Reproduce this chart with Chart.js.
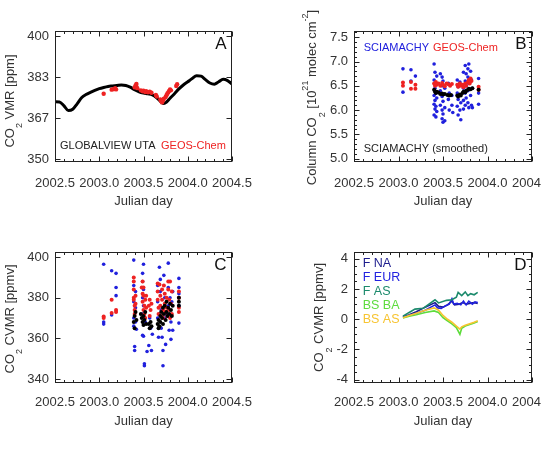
<!DOCTYPE html>
<html><head><meta charset="utf-8">
<script src="https://cdn.jsdelivr.net/npm/chart.js@4.4.0/dist/chart.umd.min.js"></script>
<style>
html,body{margin:0;padding:0;background:#fff;overflow:hidden;width:542px;height:450px;position:relative;}
.p{position:absolute;height:225px;}
canvas{display:block;}
</style></head><body>
<div class="p" style="left:0;top:0;width:271px"><canvas id="cA" width="271" height="225"></canvas></div>
<div class="p" style="left:271px;top:0;width:300px"><canvas id="cB" width="300" height="225"></canvas></div>
<div class="p" style="left:0;top:225px;width:271px"><canvas id="cC" width="271" height="225"></canvas></div>
<div class="p" style="left:271px;top:225px;width:300px"><canvas id="cD" width="300" height="225"></canvas></div>
<script>
// ---------- tick labels ----------
const xTicks = [2002.5, 2003.0, 2003.5, 2004.0, 2004.5];
const yTicksA = [350, 366.67, 383.33, 400];
const yTicksB = [5.0, 5.5, 6.0, 6.5, 7.0, 7.5];
const yTicksC = [340, 360, 380, 400];
const yTicksD = [-4, -2, 0, 2, 4];

// ---------- Panel A ----------
const gvYears = [2002.50,2002.55,2002.60,2002.65,2002.70,2002.75,2002.80,2002.85,2002.90,2002.95,2003.00,2003.05,2003.10,2003.15,2003.20,2003.25,2003.30,2003.35,2003.40,2003.45,2003.50,2003.55,2003.60,2003.65,2003.70,2003.73,2003.76,2003.80,2003.85,2003.90,2003.95,2004.00,2004.05,2004.10,2004.15,2004.20,2004.25,2004.30,2004.35,2004.40,2004.45,2004.50];
const gvCO2 = [373.4,373.3,371.8,369.8,370.3,372.5,375.0,376.3,377.2,378.0,378.7,379.2,379.6,379.8,380.0,380.2,380.0,379.3,378.3,377.4,376.9,376.6,376.2,375.0,373.2,372.6,373.2,374.8,376.6,378.6,380.2,381.5,382.8,384.0,383.8,382.4,381.0,380.5,381.5,382.5,382.0,380.6];
const geosA = [[2003.05,376.6],[2003.14,378.3],[2003.16,378.5],[2003.18,378.9],[2003.19,378.4],
 [2003.40,379.2],[2003.41,380.0],[2003.42,380.6],[2003.42,379.4],[2003.43,378.9],
 [2003.47,378.0],[2003.49,377.6],[2003.50,377.9],[2003.52,377.3],[2003.53,377.7],[2003.55,377.2],[2003.57,377.5],[2003.59,377.0],
 [2003.64,376.1],[2003.65,375.5],
 [2003.69,374.3],[2003.70,373.6],[2003.71,373.1],[2003.72,373.9],[2003.73,374.6],[2003.75,375.3],[2003.76,376.0],[2003.77,376.7],[2003.78,377.2],[2003.79,377.8],[2003.80,378.4],[2003.81,378.0],
 [2003.87,379.8],[2003.88,380.5]];

// ---------- Panel B ----------
const sciaB = [[2003.05,6.85],[2003.05,6.37],[2003.14,6.83],[2003.14,6.60],[2003.19,6.70],
 [2003.40,6.95],[2003.40,6.62],[2003.40,6.30],[2003.40,6.12],[2003.40,5.90],
 [2003.41,6.78],[2003.41,6.45],[2003.41,6.20],[2003.41,6.02],
 [2003.42,6.55],[2003.42,6.35],[2003.42,6.08],[2003.42,5.86],
 [2003.43,6.70],[2003.43,6.25],[2003.43,5.97],
 [2003.47,6.75],[2003.47,6.40],[2003.47,6.10],
 [2003.49,6.68],[2003.49,6.50],[2003.49,6.28],[2003.49,6.00],[2003.49,5.82],
 [2003.50,6.60],[2003.50,6.18],[2003.50,5.92],[2003.50,5.75],
 [2003.52,6.45],[2003.52,6.05],[2003.52,5.78],
 [2003.56,6.55],[2003.56,6.22],[2003.57,6.35],[2003.57,6.00],
 [2003.60,6.30],[2003.60,6.10],[2003.61,5.95],
 [2003.66,6.62],[2003.66,6.35],[2003.66,6.08],[2003.67,6.48],[2003.67,6.22],[2003.67,5.90],
 [2003.69,6.58],[2003.69,6.30],[2003.69,6.00],[2003.70,5.80],[2003.70,6.15],
 [2003.73,6.78],[2003.73,6.45],[2003.73,6.20],[2003.73,6.02],
 [2003.75,6.92],[2003.75,6.60],[2003.75,6.35],[2003.75,6.10],
 [2003.76,6.75],[2003.76,6.50],[2003.76,6.25],
 [2003.78,6.85],[2003.78,6.68],[2003.78,6.40],[2003.78,6.15],
 [2003.79,6.95],[2003.79,6.55],[2003.79,6.05],
 [2003.81,6.80],[2003.81,6.30],[2003.82,6.62],[2003.82,6.10],[2003.83,6.45],[2003.83,6.05],
 [2003.90,6.65],[2003.90,6.35],[2003.90,6.12]];
const smoothB = [[2003.40,6.42],[2003.41,6.38],[2003.42,6.35],[2003.43,6.38],[2003.45,6.36],[2003.47,6.33],[2003.49,6.34],[2003.50,6.32],[2003.52,6.33],[2003.55,6.31],[2003.57,6.30],[2003.59,6.31],
 [2003.66,6.30],[2003.67,6.28],[2003.69,6.32],[2003.70,6.30],[2003.72,6.35],[2003.73,6.38],[2003.75,6.37],[2003.76,6.40],[2003.78,6.42],[2003.79,6.44],[2003.81,6.43],[2003.83,6.45],[2003.90,6.42]];
const geosB = [[2003.05,6.57],[2003.05,6.50],[2003.14,6.58],[2003.14,6.44],[2003.19,6.52],[2003.19,6.44],
 [2003.40,6.55],[2003.41,6.50],[2003.42,6.58],[2003.43,6.52],[2003.45,6.55],[2003.47,6.50],[2003.49,6.56],[2003.50,6.52],[2003.52,6.49],[2003.54,6.55],[2003.56,6.53],[2003.58,6.50],[2003.60,6.54],
 [2003.66,6.52],[2003.67,6.48],[2003.69,6.55],[2003.70,6.50],[2003.72,6.52],[2003.73,6.47],[2003.75,6.55],[2003.76,6.50],[2003.78,6.58],[2003.79,6.62],[2003.80,6.55],[2003.81,6.65],[2003.82,6.60],[2003.90,6.48],[2003.90,6.42]];

// ---------- Panel C ----------
const sciaC = [[2003.05,396.5],[2003.05,368.0],[2003.05,367.0],[2003.14,393.3],[2003.14,371.5],[2003.19,392.0],[2003.19,385.0],[2003.19,381.0],
 [2003.39,398.5],[2003.39,386],[2003.39,378],[2003.39,370],[2003.39,366],[2003.40,356],[2003.40,354],[2003.41,383],[2003.41,375],[2003.41,368],[2003.42,364.5],
 [2003.49,392],[2003.49,388],[2003.49,380],[2003.49,372],[2003.49,361.5],[2003.50,396.5],[2003.50,384],[2003.50,376],[2003.50,361],[2003.51,347.5],[2003.51,346.5],[2003.52,368],
 [2003.54,353.5],[2003.56,356.5],[2003.57,370],[2003.58,365],[2003.59,354],[2003.60,362],
 [2003.66,386],[2003.66,378],[2003.66,370],[2003.67,360.5],[2003.68,395],[2003.69,389],[2003.69,383],[2003.70,374],[2003.70,365],[2003.71,360.5],[2003.72,346.5],[2003.72,354],[2003.73,391],[2003.74,380],[2003.74,370],[2003.75,357],[2003.76,372],[2003.78,397],[2003.78,385],[2003.78,376],[2003.79,364],[2003.80,380],[2003.81,368],[2003.81,359.5],[2003.82,378],[2003.83,383],[2003.83,364],
 [2003.90,389.5],[2003.90,385],[2003.90,382],[2003.90,376],[2003.90,367.5]];
const geosC = [[2003.05,370.8],[2003.05,370.0],[2003.14,379.0],[2003.14,372.5],[2003.19,374.0],[2003.19,373.0],
 [2003.39,390],[2003.39,388],[2003.39,384],[2003.39,380],[2003.39,379],[2003.40,376],[2003.40,374],[2003.40,372],[2003.41,381],[2003.41,377],
 [2003.48,385],[2003.49,388],[2003.49,382],[2003.49,378],[2003.50,385],[2003.50,381],[2003.50,374],[2003.51,376],[2003.51,372],[2003.52,379],[2003.52,370],[2003.53,381],[2003.53,375],
 [2003.56,376],[2003.57,379],[2003.57,371],[2003.58,374],[2003.59,377],
 [2003.66,387],[2003.66,383],[2003.66,379],[2003.67,375],[2003.67,372],[2003.68,386.5],[2003.69,381],[2003.69,376],[2003.70,371],[2003.71,384],[2003.71,379],[2003.72,374],[2003.72,370],[2003.73,386],[2003.74,382],[2003.74,377],[2003.75,373],[2003.76,380],[2003.76,375],[2003.77,371],[2003.78,388],[2003.78,384],[2003.79,379],[2003.79,374],[2003.80,388],[2003.80,370],[2003.81,377],[2003.82,383],[2003.82,372],
 [2003.90,383],[2003.90,380],[2003.90,375],[2003.90,373]];
const smoothC = [[2003.39,368],[2003.40,371],[2003.40,365],[2003.41,373],[2003.42,369],[2003.47,372],[2003.48,370],[2003.49,368],[2003.50,371],[2003.50,366.5],[2003.51,369],[2003.52,373],[2003.53,367],[2003.56,367],[2003.57,365],[2003.58,368],[2003.59,366],
 [2003.66,367],[2003.67,365],[2003.67,369],[2003.68,366],[2003.69,371],[2003.69,368],[2003.70,373],[2003.71,370],[2003.72,375],[2003.72,367],[2003.73,372],[2003.74,376],[2003.75,369],[2003.76,378],[2003.76,373],[2003.77,371],[2003.78,375],[2003.79,372],[2003.80,377],[2003.81,374],[2003.82,371],[2003.83,376],[2003.90,376],[2003.90,378],[2003.90,380]];

// ---------- Panel D ----------
const fNA = [[2003.05,0.15],[2003.12,0.3],[2003.2,0.5],[2003.3,0.8],[2003.41,1.1],[2003.45,0.85],[2003.50,0.8],[2003.55,0.95],[2003.60,1.2],[2003.63,0.95],[2003.68,1.0],[2003.72,1.1],[2003.76,1.0],[2003.80,1.05],[2003.85,1.1],[2003.89,1.05]];
const fEUR = [[2003.05,0.15],[2003.12,0.25],[2003.2,0.4],[2003.3,0.6],[2003.41,0.95],[2003.44,0.75],[2003.48,0.72],[2003.53,0.9],[2003.57,1.0],[2003.60,1.35],[2003.62,1.0],[2003.66,1.05],[2003.70,0.95],[2003.73,1.2],[2003.76,0.95],[2003.79,1.2],[2003.83,1.0],[2003.86,1.15],[2003.89,1.1]];
const fAS = [[2003.05,0.2],[2003.12,0.45],[2003.185,0.67],[2003.28,0.73],[2003.41,1.29],[2003.45,1.08],[2003.54,1.25],[2003.60,1.29],[2003.65,1.46],[2003.67,1.77],[2003.71,1.56],[2003.75,1.81],[2003.78,1.56],[2003.81,1.69],[2003.85,1.62],[2003.89,1.78]];
const bsBA = [[2003.05,0.08],[2003.12,0.2],[2003.2,0.3],[2003.3,0.45],[2003.4,0.55],[2003.45,0.45],[2003.5,0.1],[2003.55,-0.1],[2003.6,-0.3],[2003.65,-0.55],[2003.69,-1.0],[2003.71,-0.6],[2003.75,-0.45],[2003.8,-0.35],[2003.85,-0.25],[2003.89,-0.15]];
const bsAS = [[2003.05,0.1],[2003.12,0.25],[2003.2,0.4],[2003.3,0.6],[2003.4,0.75],[2003.45,0.6],[2003.5,0.25],[2003.55,0.0],[2003.6,-0.2],[2003.65,-0.45],[2003.69,-0.65],[2003.71,-0.5],[2003.75,-0.4],[2003.8,-0.3],[2003.85,-0.2],[2003.89,-0.1]];

// ---------- styling ----------
const FONT = '"Liberation Sans", Arial, Helvetica, sans-serif';
Chart.defaults.font.family = FONT;
Chart.defaults.font.size = 13;
Chart.defaults.color = '#333';
const RED = '#ee2222', BLUE = '#2020dd', BLACK = '#000';
const pts = a => a.map(([x, y]) => ({x, y}));

function drawVertical(ctx, cx, cy, parts) {
  ctx.save();
  ctx.translate(cx, cy);
  ctx.rotate(-Math.PI / 2);
  ctx.textBaseline = 'middle';
  ctx.fillStyle = '#333';
  const fontOf = k => (k === 'n' ? '13px ' : '9px ') + FONT;
  let total = 0;
  parts.forEach(([t, k]) => { ctx.font = fontOf(k); total += ctx.measureText(t).width; });
  let x = -total / 2;
  parts.forEach(([t, k]) => {
    ctx.font = fontOf(k);
    const dy = k === 'sub' ? 10 : (k === 'sup' ? -7 : 0);
    ctx.textAlign = 'left';
    ctx.fillText(t, x, dy);
    x += ctx.measureText(t).width;
  });
  ctx.restore();
}

const deco = {
  id: 'deco',
  afterDraw(chart, args, o) {
    const {ctx, chartArea: a, scales: {x, y}} = chart;
    ctx.save();
    ctx.strokeStyle = '#222';
    ctx.lineWidth = 1;
    const L = Math.round(a.left) + 0.5, R = Math.round(a.right) - 0.5;
    const T = Math.round(a.top) + 0.5, B = Math.round(a.bottom) - 0.5;
    ctx.strokeRect(L, T, R - L, B - T);
    ctx.beginPath();
    const xt = (v, len) => { const p = Math.round(x.getPixelForValue(v)) + 0.5; ctx.moveTo(p, B); ctx.lineTo(p, B - len); ctx.moveTo(p, T); ctx.lineTo(p, T + len); };
    const yt = (v, len) => { const p = Math.round(y.getPixelForValue(v)) + 0.5; ctx.moveTo(L, p); ctx.lineTo(L + len, p); ctx.moveTo(R, p); ctx.lineTo(R - len, p); };
    for (let i = 0; i <= 20; i++) { const v = 2002.5 + i * 0.1; xt(v, i % 5 === 0 ? 5 : 2.5); }
    o.yTicks.forEach(v => yt(v, 5));
    if (o.yMinor) {
      for (let v = Math.ceil(y.min / o.yMinor) * o.yMinor; v <= y.max; v += o.yMinor) yt(v, 2.5);
    }
    ctx.stroke();
    // panel letter
    ctx.fillStyle = '#111';
    ctx.font = '17px ' + FONT;
    ctx.textAlign = 'right';
    ctx.textBaseline = 'alphabetic';
    ctx.fillText(o.letter, a.right - 5.5, a.top + 17.5);
    // legend texts
    ctx.textAlign = 'left';
    ctx.textBaseline = 'middle';
    (o.texts || []).forEach(t => {
      ctx.font = (t.size || 11) + 'px ' + FONT;
      ctx.fillStyle = t.color;
      ctx.fillText(t.t, t.x, t.y);
    });
    // x title
    ctx.fillStyle = '#333';
    ctx.font = '13px ' + FONT;
    ctx.textAlign = 'center';
    ctx.fillText('Julian day', o.xtitle[0], o.xtitle[1]);
    ctx.restore();
    drawVertical(ctx, o.ytitle[0], o.ytitle[1], o.ytitle[2]);
  }
};

function scales(yMin, yMax, yTicks, yFmt, yW, xH, xPad) {
  return {
    x: {type: 'linear', min: 2002.5, max: 2004.5,
      afterBuildTicks: s => { s.ticks = xTicks.map(v => ({value: v})); },
      afterFit: s => { s.height = xH; },
      ticks: {callback: v => Number(v).toFixed(1), padding: xPad, maxRotation: 0, autoSkip: false, color: '#333'},
      grid: {display: false, drawTicks: false}, border: {display: false}},
    y: {type: 'linear', min: yMin, max: yMax,
      afterBuildTicks: s => { s.ticks = yTicks.map(v => ({value: v})); },
      afterFit: s => { s.width = yW; },
      ticks: {callback: yFmt, padding: 6, autoSkip: false, color: '#333'},
      grid: {display: false, drawTicks: false}, border: {display: false}}
  };
}

function make(id, datasets, pad, sc, decoOpts) {
  new Chart(document.getElementById(id), {
    type: 'scatter',
    data: {datasets},
    options: {
      responsive: false, animation: false, events: [],
      layout: {padding: pad, autoPadding: false},
      plugins: {legend: {display: false}, tooltip: {enabled: false}, deco: decoOpts},
      scales: sc
    },
    plugins: [deco]
  });
}

const dots = (data, color, r) => ({data: pts(data), backgroundColor: color, borderColor: color, pointRadius: r, pointBorderWidth: 0, showLine: false});
const line = (data, color, w) => ({data: pts(data), borderColor: color, backgroundColor: color, borderWidth: w, pointRadius: 0, showLine: true, tension: 0});

// Panel A
make('cA', [
  dots(geosA, RED, 2.2),
  {data: gvYears.map((x, i) => ({x, y: gvCO2[i]})), borderColor: BLACK, borderWidth: 3, pointRadius: 0, showLine: true, cubicInterpolationMode: 'monotone'}
], {top: 31, right: 39, left: 0, bottom: 0},
  scales(348.8, 402.2, yTicksA, v => Math.round(v), 55, 63, 14),
  {letter: 'A', yTicks: yTicksA, xtitle: [143.5, 201],
   ytitle: [10, 101, [['CO', 'n'], ['2', 'sub'], [' VMR [ppm]', 'n']]],
   texts: [{t: 'GLOBALVIEW UTA', x: 60, y: 145.7, color: '#222'}, {t: 'GEOS-Chem', x: 161, y: 145.7, color: RED}]});

// Panel B
make('cB', [
  dots(smoothB, BLACK, 2),
  dots(geosB, RED, 2),
  dots(sciaB, BLUE, 1.8)
], {top: 31, right: 39, left: 0, bottom: 0},
  scales(4.93, 7.63, yTicksB, v => Number(v).toFixed(1), 83, 63, 14),
  {letter: 'B', yTicks: yTicksB, yMinor: 0.1, xtitle: [172, 201],
   ytitle: [41.5, 97.5, [['Column CO', 'n'], ['2', 'sub'], [' [10', 'n'], ['21', 'sup'], [' molec cm', 'n'], ['-2', 'sup'], [']', 'n']]],
   texts: [{t: 'SCIAMACHY', x: 92.7, y: 48.3, color: BLUE}, {t: 'GEOS-Chem', x: 162, y: 48.3, color: RED},
           {t: 'SCIAMACHY (smoothed)', x: 92.7, y: 148.7, color: '#222'}]});

// Panel C
make('cC', [
  dots(smoothC, BLACK, 2),
  dots(geosC, RED, 2),
  dots(sciaC, BLUE, 1.8)
], {top: 27, right: 39, left: 0, bottom: 0},
  scales(338, 402.5, yTicksC, v => Math.round(v), 55, 67, 12),
  {letter: 'C', yTicks: yTicksC, xtitle: [143.5, 196],
   ytitle: [10, 94, [['CO', 'n'], ['2', 'sub'], [' CVMR [ppmv]', 'n']]], texts: []});

// Panel D
make('cD', [
  line(bsAS, '#f7c431', 1.6),
  line(bsBA, '#5ddc3c', 1.6),
  line(fAS, '#1c8a6c', 1.6),
  line(fEUR, '#2222e0', 1.6),
  line(fNA, '#1c1c8c', 1.6)
], {top: 27, right: 39, left: 0, bottom: 0},
  scales(-4.22, 4.45, yTicksD, v => Math.round(v), 83, 67, 12),
  {letter: 'D', yTicks: yTicksD, yMinor: 0.5, xtitle: [172, 196],
   ytitle: [48.3, 92.5, [['CO', 'n'], ['2', 'sub'], [' CVMR [ppmv]', 'n']]],
   texts: [{t: 'F NA', x: 91.7, y: 38.3, color: '#1c1c8c', size: 12.5},
           {t: 'F EUR', x: 91.7, y: 52.8, color: '#2222e0', size: 12.5},
           {t: 'F AS', x: 91.7, y: 66.3, color: '#1c8a6c', size: 12.5},
           {t: 'BS BA', x: 91.7, y: 80.7, color: '#5ddc3c', size: 12.5},
           {t: 'BS AS', x: 91.7, y: 95, color: '#f7c431', size: 12.5}]});
</script>
</body></html>
